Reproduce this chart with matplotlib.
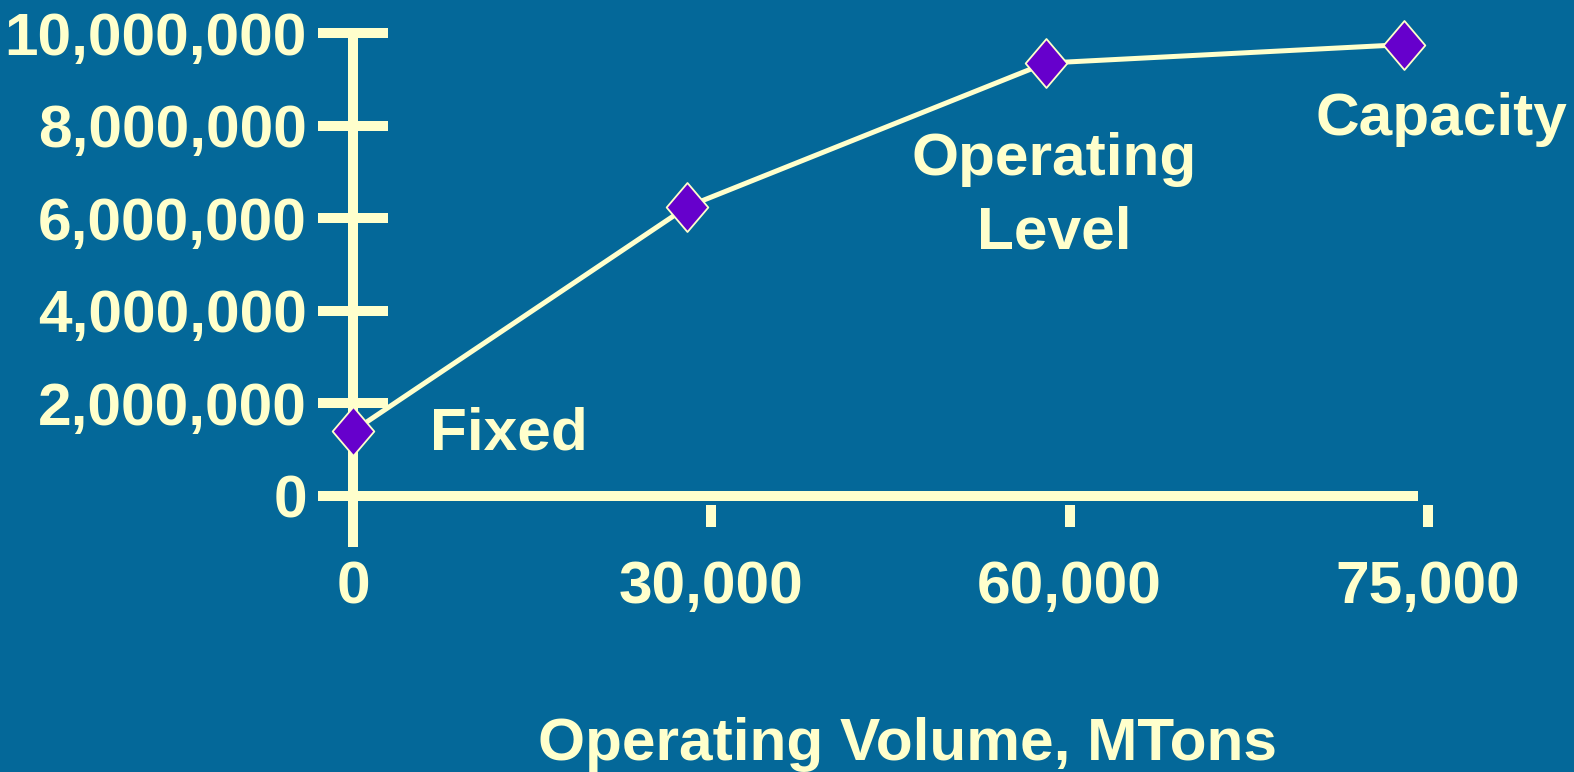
import numpy as np
import matplotlib
matplotlib.use("Agg")
import matplotlib.pyplot as plt
from matplotlib.path import Path
from matplotlib.transforms import offset_copy

# ---- data -------------------------------------------------------------
volume_ticks = [0, 30000, 60000, 75000]
volume_tick_labels = ["0", "30,000", "60,000", "75,000"]
cost_ticks = [0, 2_000_000, 4_000_000, 6_000_000, 8_000_000, 10_000_000]
cost_tick_labels = ["0", "2,000,000", "4,000,000", "6,000,000", "8,000,000", "10,000,000"]

volumes = [0, 28000, 58000, 74000]
costs = [1_400_000, 6_250_000, 9_350_000, 9_750_000]
point_labels = ["Fixed", "", "Operating\nLevel", "Capacity"]

# ---- style ------------------------------------------------------------
BG = "#046899"
CREAM = "#FFFFCC"
PURPLE = "#6600CC"
DPI = 100
PX = 72 / DPI  # points per pixel

plt.rcParams["font.family"] = ["Liberation Sans", "DejaVu Sans"]
plt.rcParams["font.weight"] = "bold"
FS = 43.5

fig = plt.figure(figsize=(15.74, 7.72), dpi=DPI, facecolor=BG)
ax = fig.add_axes([353 / 1574, 276 / 772, 1075 / 1574, 463 / 772])
ax.set_facecolor(BG)

# category-style x axis: the labelled volumes sit at equal spacing
cat_pos = np.arange(len(volume_ticks), dtype=float)
fwd = lambda v: np.interp(v, volume_ticks, cat_pos)
inv = lambda p: np.interp(p, cat_pos, volume_ticks)
ax.set_xscale("function", functions=(fwd, inv))
ax.set_xlim(volume_ticks[0], volume_ticks[-1])
ax.set_ylim(cost_ticks[0], cost_ticks[-1])

for s in ax.spines.values():
    s.set_visible(False)

# y axis line, running a little below the zero line
ax.plot([0, 0], [-0.11, 1.0], transform=ax.get_xaxis_transform(),
        color=CREAM, lw=10 * PX, solid_capstyle="butt", clip_on=False, zorder=2)
# x axis line along zero
ax.plot([-29 / 1075, 1065 / 1075], [0, 0], transform=ax.get_yaxis_transform(),
        color=CREAM, lw=10 * PX, solid_capstyle="butt", clip_on=False, zorder=2)

# y ticks crossing the axis
ax.set_yticks(cost_ticks)
ax.set_yticklabels(cost_tick_labels)
ax.tick_params(axis="y", direction="inout", length=70 * PX, width=10 * PX,
               color=CREAM, labelcolor=CREAM, labelsize=FS, pad=11 * PX)

# x tick labels; short detached tick marks drawn below the axis line
ax.set_xticks(volume_ticks)
ax.set_xticklabels(volume_tick_labels)
ax.tick_params(axis="x", length=0, labelcolor=CREAM, labelsize=FS, pad=64 * PX)
tick_tr = offset_copy(ax.transData, fig=fig, y=-20, units="dots")
ax.plot(volume_ticks[1:], [0] * (len(volume_ticks) - 1), transform=tick_tr,
        ls="none", marker="|", ms=22 * PX, mew=10 * PX, color=CREAM,
        clip_on=False, zorder=2)

# cost curve with diamond markers
diamond = Path([(0, 1), (0.85, 0), (0, -1), (-0.85, 0), (0, 1)],
               [Path.MOVETO, Path.LINETO, Path.LINETO, Path.LINETO, Path.CLOSEPOLY])
ax.plot(volumes, costs, color=CREAM, lw=5 * PX, zorder=3, clip_on=False)
ax.plot(volumes, costs, ls="none", marker=diamond, ms=49 * PX,
        mfc=PURPLE, mec=CREAM, mew=1.8 * PX, zorder=4, clip_on=False)

# point annotations (pixel offset of the last line's baseline, alignment)
offsets = [(77, -18, "left"), None, (8, -185, "center"), (37, -90, "center")]
for v, c, lab, off in zip(volumes, costs, point_labels, offsets):
    if not lab:
        continue
    dx, dy, ha = off
    ax.annotate(lab, (v, c), xytext=(dx, dy), textcoords="offset pixels",
                ha=ha, va="baseline", fontsize=FS, color=CREAM,
                linespacing=1.43, annotation_clip=False)

fig.text(907 / 1574, 12 / 772, "Operating Volume, MTons", ha="center",
         va="baseline", fontsize=FS, color=CREAM)

fig.savefig("out.png", dpi=DPI, facecolor=BG)
